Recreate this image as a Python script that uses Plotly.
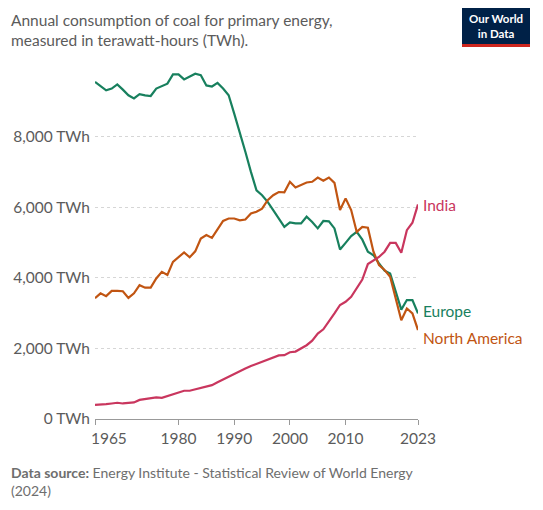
import plotly.graph_objects as go

years = list(range(1965, 2024))
europe = [9.55,9.42,9.31,9.36,9.48,9.33,9.17,9.08,9.2,9.17,9.15,9.36,9.42,9.5,9.76,9.76,9.62,9.7,9.78,9.74,
          9.45,9.42,9.52,9.36,9.17,8.65,8.13,7.57,7.0,6.48,6.34,6.15,5.92,5.68,5.44,5.57,5.54,5.54,5.73,5.58,
          5.4,5.61,5.6,5.4,4.8,4.99,5.18,5.3,5.08,4.74,4.64,4.41,4.2,4.12,3.6,3.1,3.37,3.37,2.99]
north_america = [3.42,3.56,3.48,3.63,3.63,3.62,3.43,3.56,3.79,3.72,3.72,3.98,4.17,4.08,4.45,4.59,4.72,4.58,4.75,5.11,
                 5.21,5.13,5.37,5.61,5.68,5.68,5.63,5.65,5.82,5.87,5.96,6.2,6.34,6.43,6.42,6.72,6.56,6.62,6.7,6.72,
                 6.84,6.75,6.84,6.69,5.92,6.25,5.92,5.3,5.44,5.42,4.74,4.36,4.22,4.03,3.37,2.8,3.13,2.99,2.52]
india = [0.40,0.40,0.42,0.44,0.46,0.44,0.46,0.47,0.54,0.57,0.58,0.61,0.60,0.65,0.68,0.73,0.80,0.80,0.84,0.88,
         0.92,0.96,1.04,1.12,1.2,1.29,1.37,1.43,1.5,1.56,1.62,1.7,1.74,1.8,1.81,1.89,1.91,2.0,2.09,2.22,
         2.42,2.54,2.75,2.99,3.23,3.32,3.46,3.7,3.95,4.39,4.5,4.59,4.74,4.99,4.99,4.71,5.35,5.56,6.08]
tick_years = [1965, 1980, 1990, 2000, 2010, 2023]
tick_labels = ["&nbsp;&nbsp;&nbsp;&nbsp;&nbsp;&nbsp;&nbsp;1965", "1980", "1990", "2000", "2010", "2023"]
tick_vals = [0, 2000, 4000, 6000, 8000]

OFF = 8  # page body margin
W, H = 543 - OFF, 510 - OFF
L, T = 95 - OFF, 66 - OFF
R = W - (418 - OFF)
B = H - (419 - OFF)
pw, ph = W - L - R, H - T - B
def px(x): return (x - OFF - L) / pw
def py(y): return (H - B - (y - OFF)) / ph

series = [("Europe", europe, "#18805e"), ("North America", north_america, "#c15512"), ("India", india, "#c9365e")]
fig = go.Figure()
for name, vals, col in series:
    fig.add_trace(go.Scatter(x=years, y=[v*1000 for v in vals], mode="lines", name=name,
                             line=dict(color=col, width=2.2), hoverinfo="x+y", cliponaxis=False))

label_y = {"Europe": 3050, "North America": 2300, "India": 6060}
for name, vals, col in series:
    fig.add_annotation(x=years[-1], y=label_y[name], text=name, showarrow=False, xanchor="left",
                       xshift=3, font=dict(color=col, size=15.5, family="Lato"))

fig.add_annotation(xref="paper", yref="paper", x=px(9), y=py(9), xanchor="left", yanchor="top", align="left",
                   text="Annual consumption of coal for primary energy,<br>measured in terawatt-hours (TWh).",
                   showarrow=False, font=dict(size=15.5, color="#5b5b5b", family="Lato"))
fig.add_annotation(xref="paper", yref="paper", x=px(9), y=py(462), xanchor="left", yanchor="top", align="left",
                   text="<b>Data source:</b> Energy Institute - Statistical Review of World Energy<br>(2024)",
                   showarrow=False, font=dict(size=14, color="#6e6e6e", family="Lato"))
# logo
fig.add_shape(type="rect", xref="paper", yref="paper", x0=px(462), x1=px(530), y0=py(47), y1=py(8),
              fillcolor="#002147", line_width=0)
fig.add_shape(type="rect", xref="paper", yref="paper", x0=px(462), x1=px(530), y0=py(47), y1=py(44),
              fillcolor="#ce261e", line_width=0)
fig.add_annotation(xref="paper", yref="paper", x=px(496), y=py(26), xanchor="center", yanchor="middle",
                   text="<b>Our World<br>in Data</b>",
                   showarrow=False, font=dict(size=11.5, color="white", family="Lato"))

fig.update_layout(width=W, height=H, margin=dict(l=L, r=R, t=T, b=B, autoexpand=False),
                  plot_bgcolor="white", paper_bgcolor="white", showlegend=False,
                  font=dict(family="Lato", color="#5b5b5b"))
fig.update_xaxes(range=[1965, 2023], tickvals=tick_years, ticktext=tick_labels,
                 showgrid=False, showline=True, linecolor="#999", linewidth=1, ticks="outside",
                 ticklen=5, tickcolor="#999", tickfont=dict(size=15.5, color="#5b5b5b"), zeroline=False,
                 automargin=False)
fig.update_yaxes(range=[0, 10000], tickvals=tick_vals, ticktext=[f"{v:,} TWh" for v in tick_vals],
                 showgrid=True, gridcolor="#d6d6d6", griddash="dot", zeroline=False,
                 tickfont=dict(size=15.5, color="#5b5b5b"), ticklabelstandoff=4, automargin=False)
fig.write_html("out.html")
